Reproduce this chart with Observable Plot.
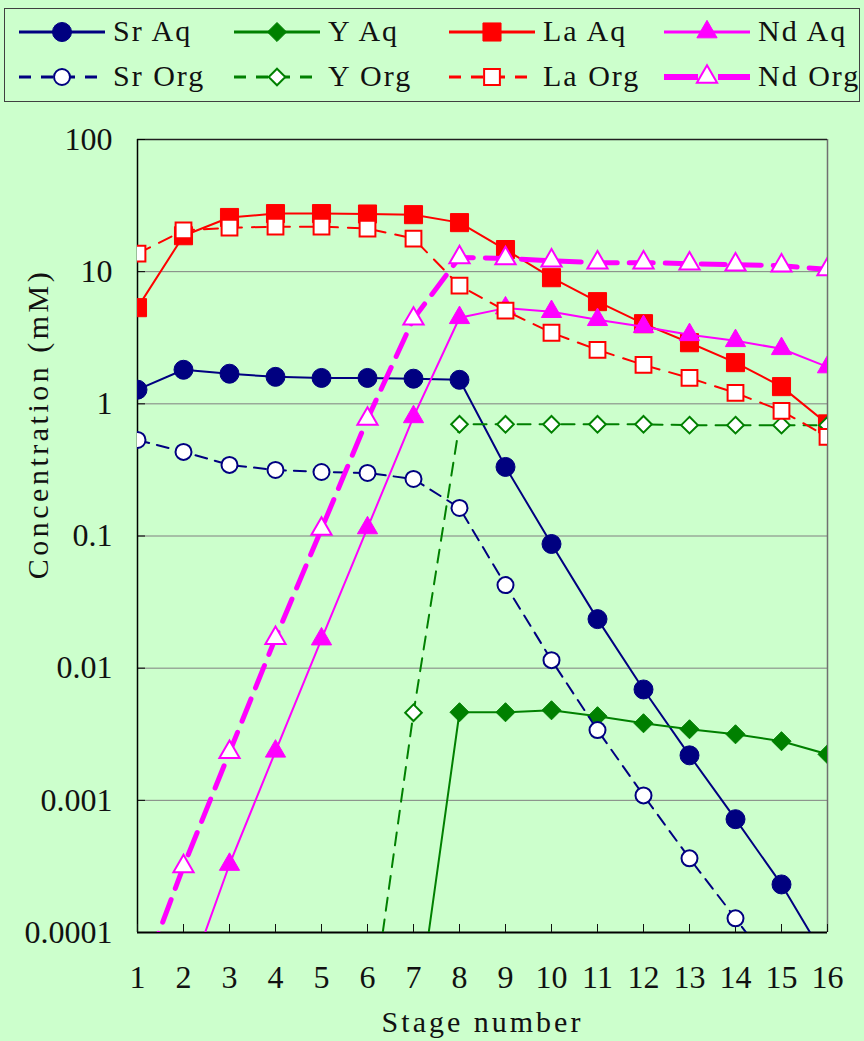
<!DOCTYPE html>
<html><head><meta charset="utf-8">
<script src="https://cdn.jsdelivr.net/npm/d3@7"></script>
<script src="https://cdn.jsdelivr.net/npm/@observablehq/plot@0.6"></script>
<style>
html,body{margin:0;padding:0;background:#CCFFCC;width:864px;height:1041px;overflow:hidden;}
#legend{position:absolute;left:4px;top:8px;width:856px;height:94px;border:1.5px solid #404040;box-sizing:border-box;}
.sw{position:absolute;}
.lt{position:absolute;font-family:"Liberation Serif",serif;font-size:30px;letter-spacing:2px;color:#111;line-height:30px;white-space:pre;}
#chart{position:absolute;left:0;top:105px;}
</style></head><body>
<div id="legend"></div>
<div id="chart"></div>
<script>
// ---- data ----
const stages = [1,2,3,4,5,6,7,8,9,10,11,12,13,14,15,16];
const srAq  = [1.28,1.81,1.69,1.60,1.57,1.57,1.55,1.52,0.333,0.087,0.0235,0.0069,0.00219,0.00072,0.000231,0.00006];
const yAq   = [null,null,null,null,null,null,0.000015,0.00464,0.00464,0.0048,0.00433,0.00383,0.00345,0.00316,0.0028,0.00223];
const laAq  = [5.34,18.7,25.7,27.5,27.5,27.3,27.0,23.5,14.7,9.0,5.93,4.04,2.9,2.05,1.35,0.705];
const ndAq  = [null,0.000035,0.000327,0.00235,0.0166,0.115,0.797,4.48,5.3,4.98,4.33,3.83,3.33,3.0,2.61,1.9];
const srOrg = [0.533,0.433,0.345,0.316,0.305,0.300,0.270,0.163,0.0425,0.0115,0.0034,0.00109,0.000364,0.000128,0.000044,null];
const yOrg  = [null,null,null,null,null,0.000015,0.0046,0.70,0.70,0.70,0.70,0.70,0.69,0.69,0.69,0.69];
const laOrg = [13.7,20.5,21.5,21.9,21.9,21.2,17.8,7.83,5.07,3.45,2.56,1.97,1.57,1.21,0.885,0.562];
const ndOrg = [0.000037,0.000316,0.00231,0.0169,0.113,0.77,4.4,12.8,12.6,12.1,11.7,11.7,11.5,11.3,11.1,10.4];

const seriesNames = ["Sr Aq","Y Aq","La Aq","Nd Aq","Sr Org","Y Org","La Org","Nd Org"];
const yTicks = [0.0001,0.001,0.01,0.1,1,10,100];
const yTickLabels = ["0.0001","0.001","0.01","0.1","1","10","100"];
const xTitle = "Stage number";
const yTitle = "Concentration (mM)";

// ---- styles ----
const NAVY="#000080", GREEN="#008000", RED="#FF0000", MAG="#FF00FF";
const series = [
  {name:seriesNames[0], vals:srAq,  color:NAVY,  dash:null,    w:2, sym:"circle",   r:9.5, filled:true},
  {name:seriesNames[1], vals:yAq,   color:GREEN, dash:null,    w:2, sym:"diamond2", r:8.6, filled:true},
  {name:seriesNames[2], vals:laAq,  color:RED,   dash:null,    w:2, sym:"square",   r:10.2,filled:true},
  {name:seriesNames[3], vals:ndAq,  color:MAG,   dash:null,    w:2, sym:"triangle", r:7.5, filled:true},
  {name:seriesNames[4], vals:srOrg, color:NAVY,  dash:"12,8",  w:2, sym:"circle",   r:8,   filled:false},
  {name:seriesNames[5], vals:yOrg,  color:GREEN, dash:"13,9",  w:2, sym:"diamond2", r:7.5, filled:false},
  {name:seriesNames[6], vals:laOrg, color:RED,   dash:"14,10", w:2, sym:"square",   r:8.9, filled:false},
  {name:seriesNames[7], vals:ndOrg, color:MAG,   dash:"24,12", w:5, sym:"triangle", r:7.5, filled:false}
];

const FONT = "Liberation Serif, serif";
const marks = [
  Plot.gridY(yTicks, {stroke:"#808080", strokeOpacity:1, strokeWidth:1}),
  Plot.ruleX([16], {stroke:"#707070", strokeWidth:1.5}),
  Plot.ruleY([100], {stroke:"#202020", strokeWidth:1.5}),
  Plot.ruleX([1], {stroke:"#000", strokeWidth:1.5}),
  Plot.ruleY([0.0001], {stroke:"#000", strokeWidth:2}),
  Plot.axisY(yTicks, {tickSize:-8, tickPadding:33, tickFormat:(d)=>yTickLabels[yTicks.indexOf(d)], fontSize:32, stroke:"#000", fill:"#111"}),
  Plot.axisX(stages, {tickSize:-8, tickPadding:41, tickFormat:(d)=>String(d), fontSize:32, fill:"#111", label:null}),
  Plot.text([yTitle], {frameAnchor:"left", textAnchor:"middle", lineAnchor:"middle", rotate:-90, dx:-99, dy:-112, fontSize:30, fill:"#111"}),
  Plot.text([xTitle], {frameAnchor:"bottom", textAnchor:"middle", lineAnchor:"middle", dy:90, fontSize:30, fill:"#111"})
];
for (const s of series) {
  const rows = stages.map((st,i)=>({stage:st, value:s.vals[i]}));
  marks.push(Plot.line(rows, {x:"stage", y:"value", stroke:s.color, strokeWidth:s.w, strokeDasharray:s.dash, clip:true}));
  marks.push(Plot.dot(rows.filter(d=>d.value!=null), {x:"stage", y:"value", symbol:s.sym, r:s.r,
    fill: s.filled ? s.color : "#fff", stroke:s.color, strokeWidth: s.filled ? 1 : 2, clip:true}));
}

const chart = Plot.plot({
  width:864, height:936,
  marginTop:34, marginBottom:109, marginLeft:137, marginRight:37,
  style:{background:"transparent", fontFamily:FONT, fontSize:"32px", color:"#111"},
  x:{domain:[1,16], label:null},
  y:{type:"log", domain:[0.0001,100], label:null},
  marks
});
document.getElementById("chart").appendChild(chart);
chart.querySelectorAll("text").forEach(t=>{
  if (t.textContent===xTitle) t.style.letterSpacing="3px";
  if (t.textContent===yTitle) t.style.letterSpacing="3.5px";
});

// ---- legend ----
const legend = document.getElementById("legend");
const symMap = {circle:d3.symbolCircle, diamond2:d3.symbolDiamond2, square:d3.symbolSquare, triangle:d3.symbolTriangle};
series.forEach((s,i)=>{
  const col = i%4, row = Math.floor(i/4);
  const left = 12 + col*215, top = row*45 + 3;
  const path = d3.symbol(symMap[s.sym], Math.PI*s.r*s.r)();
  const sw = document.createElement("div");
  sw.className="sw"; sw.style.left=left+"px"; sw.style.top=top+"px";
  const lineEl = s.dash
    ? `<line x1="2" y1="20" x2="88" y2="20" stroke="${s.color}" stroke-width="${s.w>2?6:3}" stroke-dasharray="${s.w>2?'34,20':'12,10'}"/>`
    : `<line x1="2" y1="20" x2="88" y2="20" stroke="${s.color}" stroke-width="3"/>`;
  sw.innerHTML = `<svg width="92" height="40">${lineEl}<path d="${path}" transform="translate(45,20)" fill="${s.filled?s.color:'#fff'}" stroke="${s.color}" stroke-width="${s.filled?1:2}"/></svg>`;
  legend.appendChild(sw);
  const tx = document.createElement("div");
  tx.className="lt"; tx.textContent=s.name;
  tx.style.left=(left+96)+"px"; tx.style.top=(top+4)+"px";
  legend.appendChild(tx);
});
</script>
</body></html>
